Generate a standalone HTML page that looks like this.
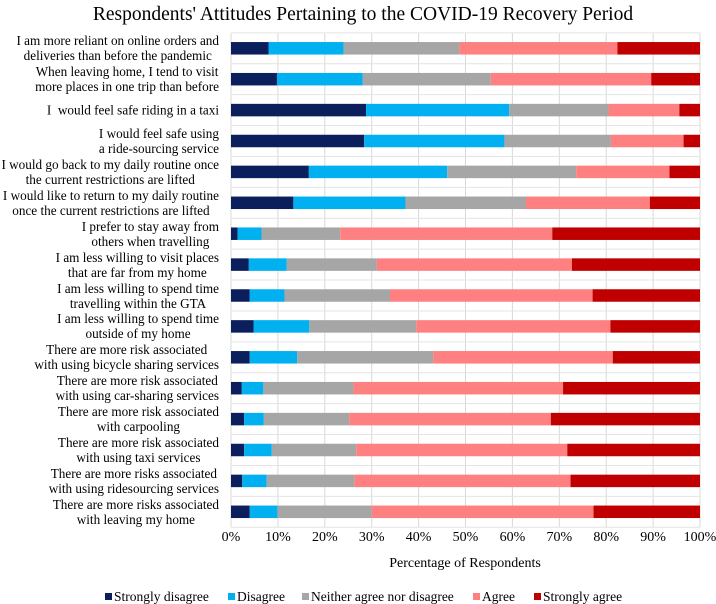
<!DOCTYPE html>
<html><head><meta charset="utf-8"><style>
body{margin:0;background:#fff;font-family:"Liberation Serif",serif;}
#wrap{position:relative;width:716px;height:604px;overflow:hidden;}
.lab{position:absolute;right:497px;text-align:center;font-size:13.2px;line-height:15px;color:#000;white-space:pre;transform:translateY(-50%);}
</style></head><body>
<div id="wrap">
<svg id="svg" width="716" height="604" style="position:absolute;left:0;top:0">
<text x="363" y="20" text-anchor="middle" font-size="19.5" font-family="Liberation Serif, serif">Respondents' Attitudes Pertaining to the COVID-19 Recovery Period</text>
<text x="465" y="567" text-anchor="middle" font-size="14" font-family="Liberation Serif, serif">Percentage of Respondents</text>
</svg>
</div>
<script>
const categories=["I am more reliant on online orders and\ndeliveries than before the pandemic","When leaving home, I tend to visit\nmore places in one trip than before","I  would feel safe riding in a taxi","I would feel safe using\na ride-sourcing service","I would go back to my daily routine once\nthe current restrictions are lifted","I would like to return to my daily routine\nonce the current restrictions are lifted","I prefer to stay away from\nothers when travelling","I am less willing to visit places\nthat are far from my home","I am less willing to spend time\ntravelling within the GTA","I am less willing to spend time\noutside of my home","There are more risk associated\nwith using bicycle sharing services","There are more risk associated\nwith using car-sharing services","There are more risk associated\nwith carpooling","There are more risk associated\nwith using taxi services","There are more risks associated\nwith using ridesourcing services","There are more risks associated\nwith leaving my home"];
const seriesNames=["Strongly disagree","Disagree","Neither agree nor disagree","Agree","Strongly agree"];
const stronglyDisagree=[8.0,9.8,28.8,28.4,16.6,13.3,1.4,3.8,4.0,4.8,4.0,2.3,2.8,2.8,2.4,4.0];
const disagree=[16.0,18.3,30.5,29.9,29.5,23.9,5.1,8.1,7.4,11.9,10.1,4.6,4.2,5.9,5.2,5.9];
const neutral=[24.7,27.3,21.2,22.7,27.5,25.7,16.8,19.2,22.5,22.8,29.0,19.2,18.2,18.0,18.7,20.1];
const agree=[33.7,34.2,15.1,15.5,19.9,26.4,45.2,41.6,43.2,41.4,38.3,44.7,43.0,45.0,46.1,47.3];
const stronglyAgree=[17.6,10.4,4.4,3.5,6.5,10.7,31.5,27.3,22.9,19.1,18.6,29.2,31.8,28.3,27.6,22.7];
const ticks=["0%","10%","20%","30%","40%","50%","60%","70%","80%","90%","100%"];
const colors=["#0b1f5c","#00b0f0","#a6a6a6","#ff8080","#c00000"];
const NS="http://www.w3.org/2000/svg";
const svg=document.getElementById('svg'), wrap=document.getElementById('wrap');
const x0=231,x1=700,yTop=33,yBot=527,c0=48.3,step=30.9,bh=12.5;
const xs=v=>x0+(x1-x0)*v/100;
const yc=i=>c0+step*i;
function el(t,a){const e=document.createElementNS(NS,t);for(const k in a)e.setAttribute(k,a[k]);svg.appendChild(e);return e;}
for(let i=0;i<ticks.length;i++){
 const g=el('line',{x1:xs(i*10),x2:xs(i*10),y1:yTop,y2:yBot,stroke:'#d9d9d9','stroke-width':1});
 
 
 const t=el('text',{x:xs(i*10),y:541,'text-anchor':'middle','font-size':14,'font-family':'Liberation Serif, serif'});
 t.textContent=ticks[i];
 
 
}
for(let i=0;i<=categories.length;i++){
 const y=yc(i)-step/2;
 const h=el('line',{x1:x0,x2:x1,y1:y,y2:y,stroke:'#e4e4e4','stroke-width':1});
 
 
}
const series=[stronglyDisagree,disagree,neutral,agree,stronglyAgree];
categories.forEach((c,i)=>{
 let acc=0;
 series.forEach((s,k)=>{
  const r=el('rect',{x:xs(acc),y:yc(i)-bh/2,width:xs(acc+s[i])-xs(acc),height:bh,fill:colors[k]});
  
  
  acc+=s[i];
 });
 const d=document.createElement('div');
 d.className='lab';d.style.top=yc(i)+'px';d.textContent=c;
 
 
 wrap.appendChild(d);
});
const lx=[105,228,302,473,534];
seriesNames.forEach((n,k)=>{
 const s=el('rect',{x:lx[k],y:593,width:7,height:7,fill:colors[k]});
 
 
 const t=el('text',{x:lx[k]+9,y:601,'font-size':13.5,'font-family':'Liberation Serif, serif'});
 t.textContent=n;
 
 
});
</script>
</body></html>
